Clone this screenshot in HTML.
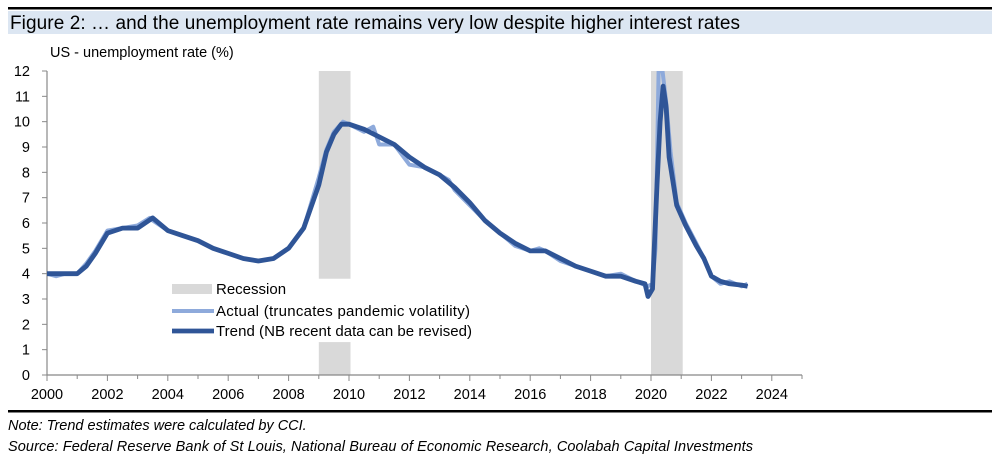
<!DOCTYPE html>
<html><head><meta charset="utf-8">
<style>
body{margin:0;background:#fff;font-family:"Liberation Sans",sans-serif;}
#wrap{position:relative;width:1002px;height:463px;overflow:hidden;}
</style></head>
<body><div id="wrap">
<svg id="chart" width="1002" height="463">
<rect x="8" y="7" width="984" height="2.5" fill="#000"/>
<rect x="8" y="11" width="984" height="23" fill="#dce6f2"/>
<text x="10" y="29" font-size="19" fill="#000" textLength="730">Figure 2:  … and the unemployment rate remains very low despite higher interest rates</text>
<text x="50" y="57" font-size="14.5" fill="#000">US - unemployment rate (%)</text>
<rect x="8" y="410" width="984" height="2.5" fill="#000"/>
<text x="8" y="430" font-size="14.5" font-style="italic" fill="#000">Note: Trend estimates were calculated by CCI.</text>
<text x="8" y="451" font-size="14.5" font-style="italic" fill="#000" textLength="745">Source: Federal Reserve Bank of St Louis, National Bureau of Economic Research, Coolabah Capital Investments</text>
<g id="plot"></g>
</svg>
<script>
const recessions=[[2009.0,2010.05],[2020.0,2021.05]];
const yTicks=[0,1,2,3,4,5,6,7,8,9,10,11,12];
const xLabels=[2000,2002,2004,2006,2008,2010,2012,2014,2016,2018,2020,2022,2024];
const trendX=[2000,2000.5,2001,2001.3,2001.6,2002,2002.5,2003,2003.5,2004,2004.5,2005,2005.5,2006,2006.5,2007,2007.5,2008,2008.5,2009,2009.25,2009.5,2009.75,2010,2010.5,2011,2011.5,2012,2012.5,2013,2013.5,2014,2014.5,2015,2015.5,2016,2016.5,2017,2017.5,2018,2018.5,2019,2019.5,2019.8,2019.9,2020.05,2020.2,2020.3,2020.4,2020.5,2020.6,2020.85,2021.15,2021.5,2021.75,2022,2022.3,2022.6,2023,2023.2];
const trendY=[4.0,4.0,4.0,4.3,4.8,5.6,5.8,5.8,6.2,5.7,5.5,5.3,5.0,4.8,4.6,4.5,4.6,5.0,5.8,7.5,8.8,9.5,9.9,9.9,9.7,9.4,9.1,8.6,8.2,7.9,7.4,6.8,6.1,5.6,5.2,4.9,4.9,4.6,4.3,4.1,3.9,3.9,3.7,3.6,3.1,3.4,7.5,10.0,11.4,10.6,8.6,6.7,5.9,5.1,4.6,3.9,3.7,3.6,3.55,3.5];
const actualX=[2000,2000.3,2000.6,2001,2001.3,2001.6,2002,2002.5,2003,2003.4,2003.5,2004,2004.5,2005,2005.5,2006,2006.5,2007,2007.5,2008,2008.5,2009,2009.25,2009.5,2009.8,2010,2010.5,2010.8,2011,2011.5,2012,2012.5,2013,2013.3,2013.5,2014,2014.5,2015,2015.5,2016,2016.3,2016.5,2017,2017.5,2018,2018.5,2019,2019.5,2019.9,2020.05,2020.15,2020.25,2020.38,2020.5,2020.65,2020.85,2021.15,2021.5,2021.75,2022,2022.3,2022.6,2023,2023.2];
const actualY=[4.0,3.9,4.0,4.0,4.4,4.9,5.7,5.8,5.9,6.2,6.1,5.7,5.5,5.3,5.0,4.8,4.6,4.5,4.6,5.0,5.8,7.8,8.9,9.6,10.0,9.9,9.6,9.8,9.1,9.1,8.3,8.2,7.9,7.7,7.3,6.7,6.1,5.6,5.1,4.9,5.0,4.9,4.5,4.3,4.1,3.9,4.0,3.7,3.5,3.6,5.0,12,12,10.8,8.8,6.8,6.0,5.2,4.6,3.9,3.6,3.7,3.5,3.6];
const NS="http://www.w3.org/2000/svg";
const g=document.getElementById('plot');
const X0=47,X1=802,Y0=375,Y1=71;
const xs=v=>X0+(v-2000)/25*(X1-X0);
const ys=v=>Y0-v/12*(Y0-Y1);
function mk(t,a){const e=document.createElementNS(NS,t);for(const k in a)e.setAttribute(k,a[k]);g.appendChild(e);return e;}
recessions.forEach((r,i)=>{
 if(i===0){
  const a=mk('rect',{x:xs(r[0]),y:Y1,width:xs(r[1])-xs(r[0]),height:ys(3.8)-Y1,fill:'#d9d9d9'});
  
  
  const b=mk('rect',{x:xs(r[0]),y:ys(1.3),width:xs(r[1])-xs(r[0]),height:Y0-ys(1.3),fill:'#d9d9d9'});
  
  
 } else {
  const a=mk('rect',{x:xs(r[0]),y:Y1,width:xs(r[1])-xs(r[0]),height:Y0-Y1,fill:'#d9d9d9'});
  
  
 }
});
const ax=mk('path',{d:`M${X0},${Y1}V${Y0}H${X1}`,stroke:'#888',fill:'none','stroke-width':1.2});


yTicks.forEach(v=>{
 mk('line',{x1:X0-5,x2:X0,y1:ys(v),y2:ys(v),stroke:'#888'});
 const t=mk('text',{x:30,y:ys(v)+5,'font-size':14.5,'text-anchor':'end'});t.textContent=v;
 
 
});
for(let yr=2000;yr<=2025;yr++){mk('line',{x1:xs(yr),x2:xs(yr),y1:Y0,y2:Y0+(yr%2===0?6:4),stroke:'#888'});}
xLabels.forEach(v=>{
 const t=mk('text',{x:xs(v),y:Y0+24,'font-size':14.5,'text-anchor':'middle'});t.textContent=v;
 
 
});
const clip=document.createElementNS(NS,'clipPath');clip.id='pc';
const cr=document.createElementNS(NS,'rect');cr.setAttribute('x',X0);cr.setAttribute('y',Y1);cr.setAttribute('width',X1-X0);cr.setAttribute('height',Y0-Y1);clip.appendChild(cr);g.appendChild(clip);
const pa=mk('path',{d:actualX.map((x,i)=>(i?'L':'M')+xs(x).toFixed(1)+','+ys(actualY[i]).toFixed(1)).join(''),stroke:'#8eaadb',fill:'none','stroke-width':4,'stroke-linejoin':'round','clip-path':'url(#pc)'});


const pt=mk('path',{d:trendX.map((x,i)=>(i?'L':'M')+xs(x).toFixed(1)+','+ys(trendY[i]).toFixed(1)).join(''),stroke:'#2f5597',fill:'none','stroke-width':4.8,'stroke-linejoin':'round','clip-path':'url(#pc)'});


// legend
const l1=mk('rect',{x:172,y:284,width:40,height:10,fill:'#d9d9d9'});


const l2=mk('line',{x1:172,x2:214,y1:311,y2:311,stroke:'#8eaadb','stroke-width':4});


const l3=mk('line',{x1:172,x2:214,y1:331,y2:331,stroke:'#2f5597','stroke-width':4.8});


[['Recession',294,0],['Actual (truncates pandemic volatility)',316,254],['Trend (NB recent data can be revised)',336,256]].forEach(([s,y,w])=>{
 const t=mk('text',{x:216,y:y,'font-size':15});t.textContent=s;
 if(w)t.setAttribute('textLength',w);
 
 
});
</script>
</div></body></html>
